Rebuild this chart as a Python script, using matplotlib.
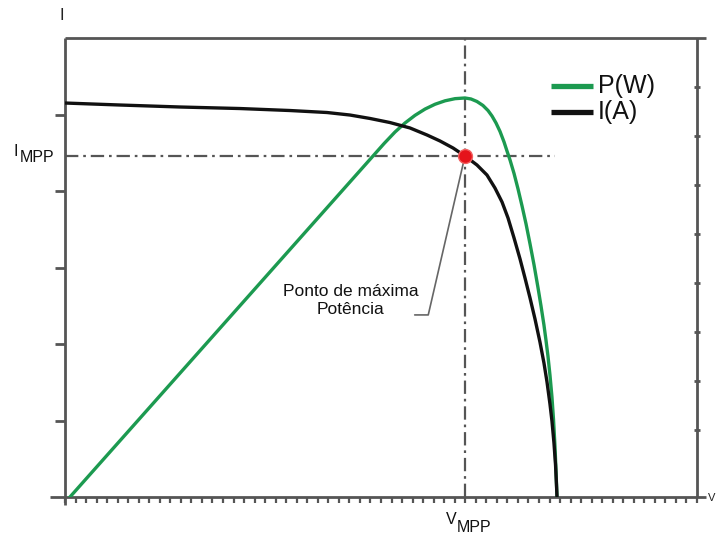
import numpy as np
import matplotlib
matplotlib.use("Agg")
import matplotlib.pyplot as plt
from matplotlib.lines import Line2D

plt.rcParams["font.family"] = ["Liberation Sans", "DejaVu Sans"]

# I-V curve of the module (voltage in tick units, current in left-axis units)
v_current = [0.00, 5.22, 10.92, 16.61, 21.36, 24.87, 27.06, 28.96, 30.85, 32.75,
             34.37, 35.60, 36.84, 37.97, 39.11, 40.06, 40.82, 41.49, 42.06, 42.63,
             43.20, 43.67, 44.15, 44.62, 45.09, 45.47, 45.76, 46.04, 46.23, 46.42,
             46.57, 46.66, 46.71]
current = [5.150, 5.124, 5.098, 5.078, 5.052, 5.026, 4.993, 4.948, 4.895, 4.824,
           4.732, 4.654, 4.562, 4.458, 4.340, 4.209, 4.039, 3.856, 3.647, 3.386,
           3.111, 2.863, 2.601, 2.327, 2.026, 1.752, 1.503, 1.216, 0.993, 0.706,
           0.418, 0.157, 0.000]

# P-V curve of the module, on the same vertical scale
v_power = [0.47, 30.29, 31.33, 32.28, 33.23, 34.18, 35.13, 36.08, 37.03, 37.97,
           38.54, 39.11, 39.68, 40.16, 40.54, 40.92, 41.30, 41.68, 41.96, 42.25,
           42.63, 43.01, 43.39, 43.77, 44.15, 44.53, 44.91, 45.19, 45.47, 45.66,
           45.85, 46.04, 46.23, 46.38, 46.52, 46.61, 46.71]
power = [0.000, 4.620, 4.771, 4.889, 4.989, 5.071, 5.134, 5.179, 5.207, 5.216,
         5.203, 5.170, 5.118, 5.052, 4.980, 4.889, 4.778, 4.641, 4.523, 4.405,
         4.229, 4.026, 3.804, 3.569, 3.307, 3.033, 2.732, 2.497, 2.248, 2.052,
         1.843, 1.595, 1.307, 1.007, 0.654, 0.353, 0.000]

# Maximum power point
v_mpp = 37.97
i_mpp = 4.458

GREEN = "#1c9a50"
BLACK = "#111111"
GRAY = "#555555"

fig = plt.figure(figsize=(7.16, 5.41), dpi=100)
ax = fig.add_axes([65 / 716, 44 / 541, 632 / 716, 459 / 541])
ax.set_xlim(0, 60)
ax.set_ylim(0, 6)

# frame drawn as free lines so the edges can overrun the corners
for s in ax.spines.values():
    s.set_visible(False)
frame_kw = dict(transform=ax.transAxes, color=GRAY, lw=2.0, clip_on=False,
                solid_capstyle="butt", zorder=1)
ax.add_line(Line2D([0, 0], [-0.018, 1.0], **frame_kw))
ax.add_line(Line2D([-0.024, 1.014], [0, 0], **frame_kw))
ax.add_line(Line2D([0, 1.014], [1, 1], **frame_kw))
ax.add_line(Line2D([1, 1], [0, 1], **frame_kw))

# left ticks
ax.set_yticks([1, 2, 3, 4, 5])
ax.tick_params(axis="y", which="major", left=True, right=False, length=7,
               width=2, color=GRAY, direction="out", labelleft=False)
# bottom ticks
ax.set_xticks(np.arange(3, 60, 6))
ax.set_xticks(np.arange(0, 61, 1), minor=True)
ax.tick_params(axis="x", which="major", length=7, width=1.6, color=GRAY,
               direction="out", labelbottom=False)
ax.tick_params(axis="x", which="minor", length=4, width=1.6, color=GRAY,
               direction="out")

# right-hand ticks
ax2 = ax.twinx()
for s in ax2.spines.values():
    s.set_visible(False)
ax2.set_ylim(459 / 49, 0)
ax2.set_yticks(np.arange(1, 9))
ax2.tick_params(axis="y", length=4.5, width=2, color=GRAY, direction="inout",
                labelright=False)
ax2.set_xticks([])

# guide lines through the maximum power point
dash = (0, (6, 2.2, 1.2, 2.2))
ax.plot([0, 46.5], [i_mpp, i_mpp], color=GRAY, lw=1.6, linestyle=dash, zorder=2)
ax.plot([v_mpp, v_mpp], [0, 6], color=GRAY, lw=1.6, linestyle=dash, zorder=2)

# curves
ax.plot(v_power, power, color=GREEN, lw=2.4, solid_joinstyle="round", zorder=3)
ax.plot(v_current, current, color=BLACK, lw=2.4, solid_joinstyle="round", zorder=4)

# maximum power point marker
ax.plot([v_mpp], [i_mpp], "o", color="#e5141b", markersize=10,
        markeredgecolor="#f26060", markeredgewidth=1.0, zorder=6)

# callout
ax.text(27.15, 2.57, "Ponto de máxima\nPotência", ha="center", va="center",
        fontsize=12.5, linespacing=1.2, color="#111111", zorder=5)
ax.annotate("", xy=(v_mpp, i_mpp), xytext=(33.2, 2.38),
            arrowprops=dict(arrowstyle="-", color="#666666", lw=1.2,
                            shrinkA=0, shrinkB=0,
                            connectionstyle="angle,angleA=0,angleB=77,rad=0"),
            zorder=5)

# legend, laid out by hand
legend_items = [("P(W)", GREEN, 86), ("I(A)", BLACK, 112)]
for label, color, ypx in legend_items:
    yf = 1 - ypx / 541
    fig.add_artist(Line2D([551 / 716, 593 / 716], [yf, yf], color=color, lw=3.8,
                          solid_capstyle="butt", transform=fig.transFigure))
    fig.text(598 / 716, yf, label, fontsize=18, color="#111111",
             ha="left", va="center")

# axis names and MPP labels
fig.text(60 / 716, 1 - 16 / 541, "I", fontsize=12, color="#222222",
         ha="left", va="center")
fig.text(708 / 716, 1 - 498 / 541, "V", fontsize=8, color="#222222",
         ha="left", va="center")
fig.text(13 / 716, 1 - 151 / 541, "I", fontsize=11.5, color="#111111",
         ha="left", va="center")
fig.text(20 / 716, 1 - 158 / 541, "MPP", fontsize=11.5, color="#111111",
         ha="left", va="center")
fig.text(446 / 716, 1 - 520 / 541, "V", fontsize=11.5, color="#111111",
         ha="left", va="center")
fig.text(457 / 716, 1 - 527 / 541, "MPP", fontsize=11.5, color="#111111",
         ha="left", va="center")

fig.savefig("out.png", dpi=100)
